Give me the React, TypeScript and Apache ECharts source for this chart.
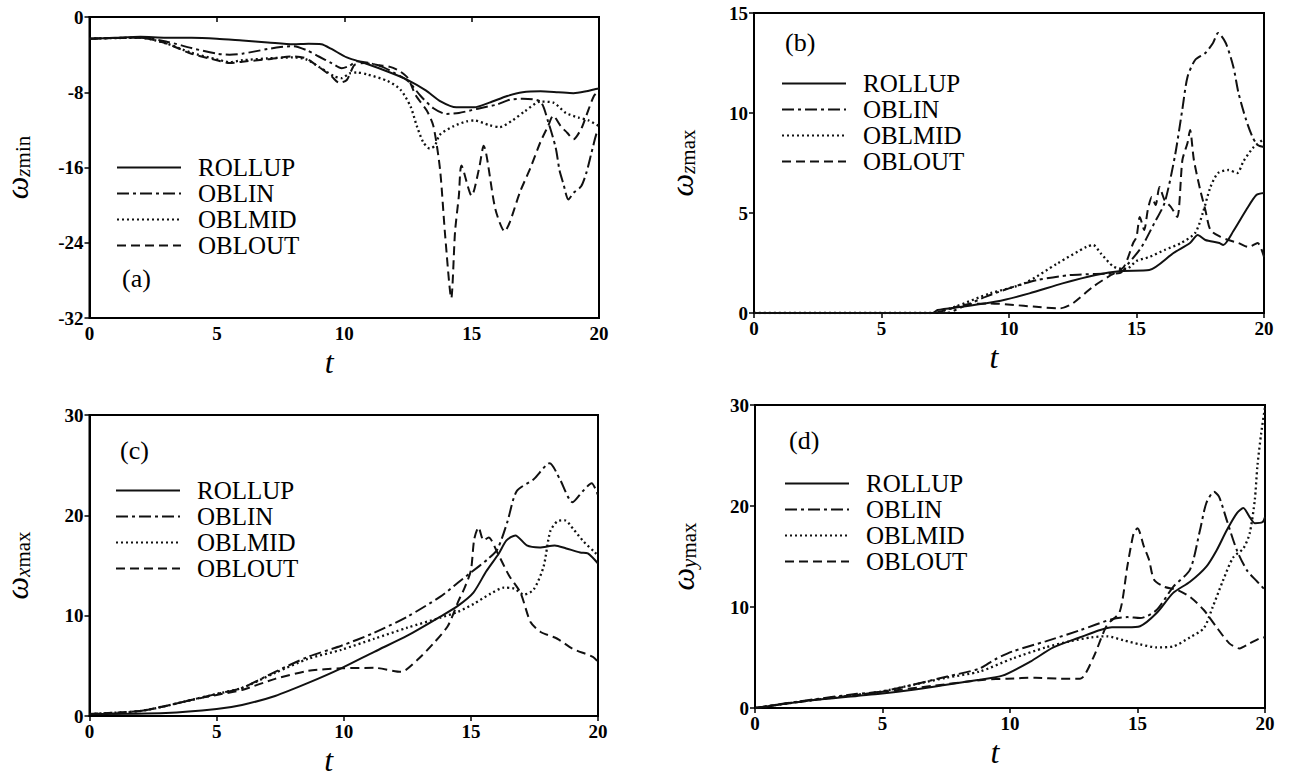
import React, { useEffect, useRef } from "react";
import * as echarts from "echarts";

type P = [number, number][];

// ---- Panel (a): omega_z min ----
const a_ROLLUP: P = [[0,-2.3],[1,-2.2],[2,-2.1],[3,-2.2],[4,-2.2],[5,-2.3],[6,-2.5],[7,-2.7],[8,-2.9],[8.6,-2.85],[9.1,-2.9],[9.5,-3.4],[10.1,-4.3],[10.9,-5.0],[11.8,-5.9],[12.5,-6.7],[13.2,-7.8],[13.8,-9.0],[14.4,-9.6],[15.1,-9.6],[15.7,-9.1],[16.4,-8.4],[17.0,-8.0],[17.7,-7.9],[18.4,-8.0],[19.0,-8.1],[19.5,-7.9],[19.8,-7.7],[20,-7.6]];
const a_OBLIN: P = [[0,-2.3],[2,-2.2],[3,-2.6],[4,-3.3],[5,-3.9],[5.5,-4.0],[6,-3.9],[7,-3.4],[7.5,-3.2],[8,-3.1],[8.5,-3.5],[9,-4.2],[9.5,-4.9],[9.9,-5.45],[10.2,-5.2],[10.5,-4.7],[11,-4.9],[11.5,-5.3],[12,-6.0],[12.5,-6.8],[13,-8.4],[13.5,-9.7],[14,-10.3],[14.5,-10.2],[15,-9.9],[15.5,-9.6],[16,-9.3],[16.5,-8.8],[17,-8.7],[17.7,-9.0],[18.0,-11.1],[18.3,-13.9],[18.45,-16.3],[18.6,-17.7],[18.8,-19.4],[19.0,-18.7],[19.3,-18.0],[19.5,-16.6],[19.7,-14.5],[19.9,-12.4],[20,-12.0]];
const a_OBLMID: P = [[0,-2.3],[2,-2.2],[3,-2.8],[4,-3.8],[5,-4.5],[5.5,-4.8],[6,-4.6],[7,-4.4],[8,-4.3],[8.5,-4.5],[9,-5.3],[9.3,-5.8],[9.6,-6.3],[9.9,-6.5],[10.2,-6.0],[10.5,-5.9],[10.9,-6.1],[11.7,-6.8],[12.2,-7.7],[12.6,-9.5],[12.85,-11.6],[13.1,-13.3],[13.36,-14.0],[13.55,-13.7],[13.76,-12.5],[14.3,-11.6],[14.8,-11.1],[15.1,-11.0],[15.7,-11.5],[16.1,-11.7],[16.6,-11.0],[17.1,-10.0],[17.7,-9.0],[18.2,-9.1],[18.7,-10.2],[19.2,-10.7],[19.6,-11.0],[20,-11.6]];
const a_OBLOUT: P = [[0,-2.3],[2,-2.2],[3,-2.8],[4,-3.9],[5,-4.6],[5.5,-4.9],[6,-4.75],[7,-4.5],[8,-4.2],[8.5,-4.4],[9,-5.3],[9.5,-6.3],[9.8,-7.0],[10.1,-6.7],[10.4,-5.1],[10.8,-4.9],[11.3,-5.1],[11.8,-5.3],[12.2,-5.8],[12.5,-6.5],[12.8,-8.3],[13.25,-10.0],[13.5,-11.6],[13.76,-16.2],[13.96,-23.2],[14.2,-29.9],[14.35,-22.8],[14.5,-19.0],[14.6,-15.8],[15.0,-19.0],[15.3,-16.0],[15.47,-13.7],[15.93,-20.4],[16.3,-22.8],[16.5,-21.8],[16.9,-18.6],[17.3,-16.1],[17.7,-13.3],[18.0,-11.6],[18.2,-10.5],[18.5,-11.6],[18.75,-12.3],[19.0,-13.0],[19.3,-11.9],[19.5,-10.5],[19.8,-8.4],[20,-7.8]];

// ---- Panel (b): omega_z max ----
const b_ROLLUP: P = [[0,0],[7,0],[7.2,0.15],[8.2,0.32],[9.5,0.57],[10.8,0.98],[12.1,1.48],[13.4,1.9],[14.4,2.1],[15.5,2.15],[16.45,3.0],[17.1,3.5],[17.4,3.9],[17.7,3.65],[18.25,3.5],[18.4,3.4],[18.8,4.1],[19.3,5.15],[19.7,5.9],[20,6.0]];
const b_OBLIN: P = [[0,0],[7.5,0],[8.2,0.32],[9.1,0.82],[10.2,1.32],[11.1,1.65],[12.4,1.9],[13.4,1.95],[14.35,2.0],[14.7,2.5],[15.2,3.3],[15.7,4.5],[16.1,5.5],[16.5,7.8],[16.8,10.2],[17.0,11.8],[17.3,12.65],[17.7,13.0],[18.0,13.5],[18.2,14.0],[18.5,13.5],[18.8,12.3],[19.0,11.0],[19.3,9.65],[19.55,8.8],[19.75,8.4],[20,8.3]];
const b_OBLMID: P = [[0,0],[7,0],[7.9,0.32],[9.25,0.98],[10.6,1.48],[11.9,2.48],[13.05,3.32],[13.3,3.4],[13.6,2.98],[14.1,2.32],[14.6,2.2],[15.0,2.6],[15.5,2.8],[16.1,3.15],[16.75,3.5],[17.3,4.0],[17.6,5.0],[17.9,6.3],[18.2,7.0],[18.6,7.15],[18.95,7.0],[19.2,7.6],[19.6,8.3],[20,8.7]];
const b_OBLOUT: P = [[0,0],[7,0],[7.55,0.15],[8.2,0.4],[9.25,0.48],[10.2,0.4],[10.95,0.32],[12.0,0.23],[12.5,0.48],[13.3,1.32],[14.0,1.9],[14.5,2.3],[14.87,3.5],[15.0,3.8],[15.13,4.8],[15.3,4.15],[15.45,5.2],[15.6,5.8],[15.75,5.4],[15.9,6.3],[16.1,5.65],[16.35,5.3],[16.6,4.8],[16.8,7.65],[17.0,8.5],[17.1,9.15],[17.25,7.65],[17.5,6.15],[17.7,5.15],[17.9,4.15],[18.3,3.8],[18.6,3.65],[19.0,3.5],[19.4,3.3],[19.75,3.5],[20,2.8]];

// ---- Panel (c): omega_x max ----
const c_ROLLUP: P = [[0,0.2],[3,0.3],[5,0.7],[6,1.1],[7.3,2.0],[8.6,3.3],[9.9,4.75],[11.2,6.4],[12.5,8.0],[13.8,9.9],[14.5,11.0],[15.1,12.3],[15.6,14.4],[16.1,16.2],[16.4,17.5],[16.75,18.0],[17.2,17.0],[17.7,16.8],[18.3,17.0],[18.75,16.7],[19.3,16.3],[19.6,16.2],[20,15.2]];
const c_OBLIN: P = [[0,0.2],[1,0.25],[2,0.5],[3,1.0],[4,1.6],[5,2.2],[6,2.8],[7.3,4.4],[8.6,5.9],[9.9,7.0],[11.2,8.3],[12.5,9.9],[13.8,11.9],[14.5,13.3],[15.0,14.3],[15.65,15.6],[16.04,16.6],[16.43,19.3],[16.8,22.4],[17.47,23.6],[18.1,25.2],[18.5,23.6],[19.0,21.3],[19.4,22.4],[19.75,23.2],[20,22.0]];
const c_OBLMID: P = [[0,0.2],[2,0.5],[3,1.0],[4,1.6],[5,2.2],[6,2.8],[7.3,4.3],[8.6,5.7],[9.9,6.6],[11.2,7.7],[12.5,8.8],[13.8,9.8],[14.5,10.4],[15.13,11.2],[15.78,12.2],[16.3,12.8],[16.7,12.7],[17.08,12.1],[17.47,12.6],[17.86,14.9],[18.12,18.4],[18.4,19.4],[18.7,19.5],[19.04,18.6],[19.43,17.4],[19.88,16.3],[20,16.0]];
const c_OBLOUT: P = [[0,0.2],[2,0.5],[3,1.0],[4,1.6],[5,2.1],[6,2.6],[7.3,3.7],[8.6,4.5],[9.9,4.75],[11.2,4.8],[12.25,4.4],[12.9,5.6],[13.55,7.3],[14.1,9.0],[14.5,11.4],[14.74,12.7],[15.0,14.5],[15.13,17.6],[15.3,18.8],[15.5,17.5],[15.7,17.8],[16.04,16.3],[16.5,14.0],[16.95,12.3],[17.34,9.4],[17.73,8.4],[18.4,7.7],[19.0,6.7],[19.8,5.9],[20,5.4]];

// ---- Panel (d): omega_y max ----
const d_ROLLUP: P = [[0,0],[2,0.7],[4,1.2],[4.9,1.4],[6.2,1.8],[7.5,2.3],[8.8,2.8],[9.7,3.2],[10.8,4.6],[11.7,6.0],[12.75,7.0],[13.5,7.7],[14.0,8.0],[14.6,8.0],[15.1,8.1],[15.75,9.4],[16.4,11.4],[17.06,12.5],[17.7,14.0],[18.1,15.6],[18.5,17.6],[18.9,19.3],[19.15,19.8],[19.4,18.9],[19.6,18.3],[19.9,18.4],[20,18.9]];
const d_OBLIN: P = [[0,0],[2,0.75],[4,1.4],[4.9,1.6],[6.2,2.3],[7.5,3.1],[8.8,3.9],[9.4,4.8],[10.1,5.6],[11.4,6.6],[12.75,7.7],[14.0,8.8],[14.6,9.0],[15.1,8.9],[15.75,9.7],[16.4,12.0],[17.06,13.7],[17.45,17.6],[17.7,20.3],[18.0,21.4],[18.2,20.9],[18.5,18.6],[18.9,15.6],[19.3,13.6],[19.7,12.5],[20,11.7]];
const d_OBLMID: P = [[0,0],[2,0.7],[4,1.3],[4.9,1.6],[6.2,2.3],[7.5,3.0],[8.8,3.6],[10.1,4.9],[11.4,6.0],[12.35,6.6],[13.2,7.0],[13.8,7.1],[14.45,6.7],[15.1,6.3],[15.75,6.0],[16.4,6.1],[17.06,7.0],[17.6,7.9],[17.95,10.0],[18.35,12.6],[18.75,14.9],[19.15,15.8],[19.4,17.3],[19.6,20.6],[19.7,23.9],[19.85,27.2],[20,29.8]];
const d_OBLOUT: P = [[0,0],[2,0.7],[4,1.3],[5,1.6],[7,2.2],[9,2.8],[9.9,2.9],[11,3.0],[12,2.9],[12.75,2.9],[13.27,5.0],[13.8,8.2],[14.3,9.5],[14.6,14.0],[14.85,17.3],[15.0,17.8],[15.25,16.0],[15.45,14.7],[15.65,12.7],[16.05,12.0],[16.55,11.7],[17.06,11.0],[17.6,9.7],[18.1,8.0],[18.6,6.4],[19.0,5.9],[19.4,6.4],[19.8,6.9],[20,7.0]];

const NAMES = ["ROLLUP", "OBLIN", "OBLMID", "OBLOUT"];
const X_TICKS = [0, 5, 10, 15, 20];
const PANEL_LABELS = ["(a)", "(b)", "(c)", "(d)"];
const Y_SUB = ["z", "z", "x", "y"];
const Y_SUFFIX = ["min", "max", "max", "max"];
const Y_RANGE: [number, number, number][] = [[-32, 0, 8], [0, 15, 5], [0, 30, 10], [0, 30, 10]];

const PANEL_DATA: P[][] = [
  [a_ROLLUP, a_OBLIN, a_OBLMID, a_OBLOUT],
  [b_ROLLUP, b_OBLIN, b_OBLMID, b_OBLOUT],
  [c_ROLLUP, c_OBLIN, c_OBLMID, c_OBLOUT],
  [d_ROLLUP, d_OBLIN, d_OBLMID, d_OBLOUT],
];

const FONT = '"Liberation Serif", "Times New Roman", serif';

const GRIDS = [
  { left: 88, top: 17, width: 511, height: 301 },
  { left: 754, top: 13, width: 510, height: 300 },
  { left: 86, top: 415, width: 512, height: 302 },
  { left: 755, top: 405, width: 510, height: 303 },
];
const LEGEND_POS = [
  { left: 111, top: 150 },
  { left: 776, top: 66 },
  { left: 110, top: 473 },
  { left: 779, top: 466 },
];
const LABEL_POS = [
  { x: 122, y: 278 },
  { x: 785, y: 42 },
  { x: 120, y: 450 },
  { x: 789, y: 440 },
];

const LINE_TYPES: any[] = ["solid", [12, 4, 3, 4], [2, 3], [9, 5]];

export default function App() {
  const ref = useRef<HTMLDivElement>(null);
  useEffect(() => {
    if (!ref.current) return;
    const chart = echarts.init(ref.current, undefined, { renderer: "svg" });
    const grid = GRIDS.map((g) => ({
      ...g,
      show: true,
      borderColor: "#000",
      borderWidth: 2,
      backgroundColor: "transparent",
    }));
    const xAxis = GRIDS.map((_, i) => ({
      type: "value",
      gridIndex: i,
      min: X_TICKS[0],
      max: X_TICKS[X_TICKS.length - 1],
      interval: 5,
      name: "t",
      nameLocation: "middle",
      nameGap: 28,
      nameTextStyle: {
        fontFamily: FONT,
        fontStyle: "italic",
        fontSize: 32,
        color: "#000",
        padding: [0, 30, 0, 0],
      },
      axisLine: { show: true, lineStyle: { color: "#000", width: 2 } },
      axisTick: { show: true, length: 5, lineStyle: { color: "#000", width: 1.5 } },
      axisLabel: {
        fontFamily: FONT,
        fontSize: 19,
        fontWeight: 700,
        color: "#000",
        margin: 6,
      },
      splitLine: { show: false },
    }));
    const yAxis = GRIDS.map((_, i) => ({
      type: "value",
      gridIndex: i,
      min: Y_RANGE[i][0],
      max: Y_RANGE[i][1],
      interval: Y_RANGE[i][2],
      name: `{w|ω}{s|${Y_SUB[i]}}{m|${Y_SUFFIX[i]}}`,
      nameLocation: "middle",
      nameRotate: 90,
      nameGap: 56,
      nameTextStyle: {
        color: "#000",
        rich: {
          w: { fontFamily: FONT, fontStyle: "italic", fontSize: 32, color: "#000" },
          s: { fontFamily: FONT, fontStyle: "italic", fontSize: 21, color: "#000", padding: [12, 0, 0, 0] },
          m: { fontFamily: FONT, fontSize: 21, color: "#000", padding: [12, 0, 0, 0] },
        },
      },
      axisLine: { show: true, lineStyle: { color: "#000", width: 2 } },
      axisTick: { show: true, length: 5, lineStyle: { color: "#000", width: 1.5 } },
      axisLabel: {
        fontFamily: FONT,
        fontSize: 19,
        fontWeight: 700,
        color: "#000",
        margin: 6,
      },
      splitLine: { show: false },
    }));
    const series: any[] = [];
    PANEL_DATA.forEach((arr, gi) => {
      arr.forEach((data, si) => {
        series.push({
          type: "line",
          name: NAMES[si],
          xAxisIndex: gi,
          yAxisIndex: gi,
          data,
          showSymbol: false,
          symbol: "none",
          smooth: 0.25,
          lineStyle: {
            color: "#111",
            width: si === 2 ? 2.3 : 2,
            type: LINE_TYPES[si],
          },
          itemStyle: { color: "#111" },
          z: 3,
        });
      });
    });
    const legend = LEGEND_POS.map((p) => ({
      ...p,
      orient: "vertical",
      data: NAMES,
      selectedMode: false,
      itemWidth: 64,
      itemHeight: 14,
      itemGap: 1,
      itemStyle: { opacity: 0, color: "transparent", borderWidth: 0 },
      textStyle: {
        fontFamily: FONT,
        fontSize: 25,
        color: "#000",
        lineHeight: 22,
        padding: [0, 0, 0, 12],
      },
    }));
    const graphic = LABEL_POS.map((p, i) => ({
      type: "text",
      x: p.x,
      y: p.y,
      style: {
        text: PANEL_LABELS[i],
        font: `26px ${FONT}`,
        fill: "#000",
        verticalAlign: "middle",
      },
    }));
    chart.setOption({
      animation: false,
      backgroundColor: "#fff",
      grid,
      xAxis,
      yAxis,
      series,
      legend,
      graphic,
    });
    return () => chart.dispose();
  }, []);
  return (
    <div
      ref={ref}
      style={{ position: "fixed", left: 0, top: 0, width: 1291, height: 777, background: "#fff" }}
    />
  );
}
